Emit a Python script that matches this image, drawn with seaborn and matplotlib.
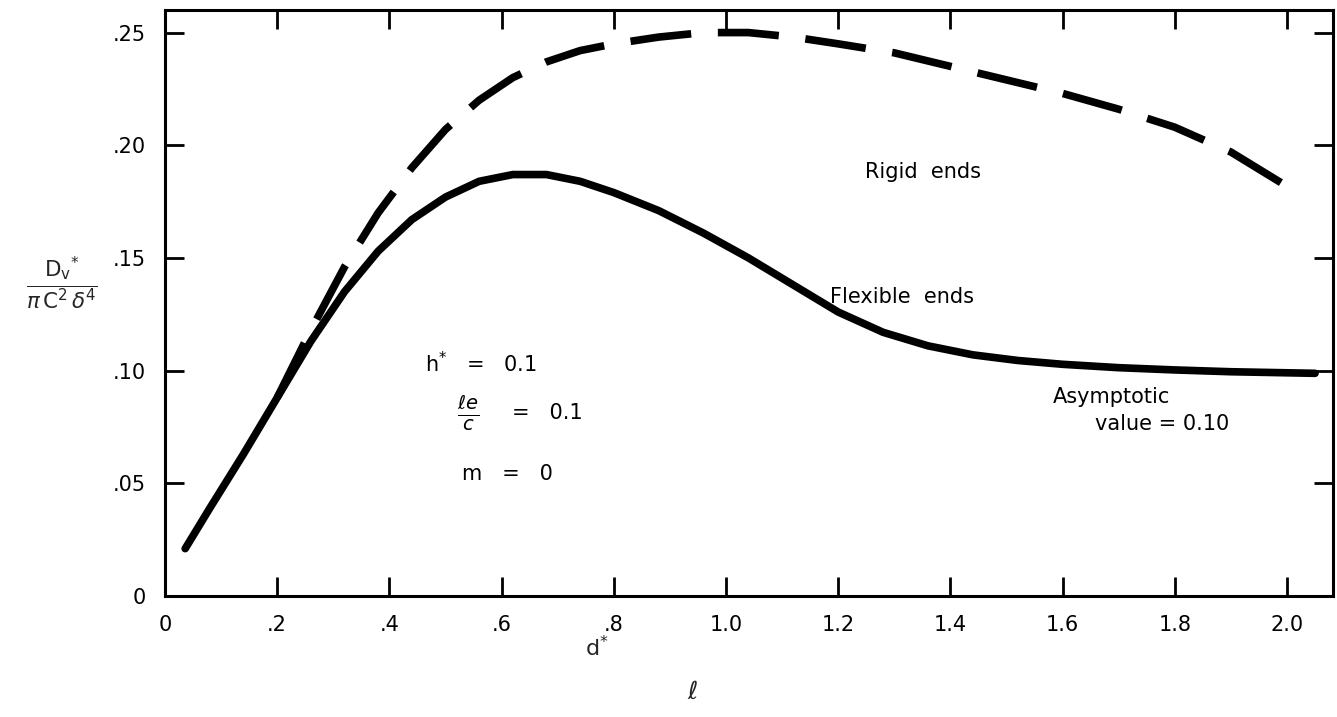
import matplotlib
matplotlib.use("Agg")
import matplotlib.pyplot as plt
import seaborn as sns

# flexible ends (solid)
flex_x = [0.036, 0.08, 0.14, 0.20, 0.26, 0.32, 0.38, 0.44, 0.50, 0.56, 0.62, 0.68,
          0.74, 0.80, 0.88, 0.96, 1.04, 1.12, 1.20, 1.28, 1.36, 1.44, 1.52, 1.60,
          1.70, 1.80, 1.90, 2.05]
flex_y = [0.021, 0.039, 0.063, 0.088, 0.113, 0.135, 0.153, 0.167, 0.177, 0.184,
          0.187, 0.187, 0.184, 0.179, 0.171, 0.161, 0.150, 0.138, 0.126, 0.117,
          0.111, 0.107, 0.1045, 0.1028, 0.1013, 0.1003, 0.0995, 0.0988]

# rigid ends (dashed)
rigid_x = [0.20, 0.26, 0.32, 0.38, 0.44, 0.50, 0.56, 0.62, 0.68, 0.74, 0.80, 0.88,
           0.96, 1.04, 1.12, 1.20, 1.30, 1.40, 1.50, 1.60, 1.70, 1.80, 1.90, 2.005]
rigid_y = [0.088, 0.118, 0.146, 0.170, 0.190, 0.207, 0.220, 0.230, 0.237, 0.242,
           0.245, 0.248, 0.250, 0.250, 0.248, 0.245, 0.241, 0.235, 0.229, 0.223,
           0.216, 0.208, 0.197, 0.181]

xticks = [0, 0.2, 0.4, 0.6, 0.8, 1.0, 1.2, 1.4, 1.6, 1.8, 2.0]
xtick_labels = ["0", ".2", ".4", ".6", ".8", "1.0", "1.2", "1.4", "1.6", "1.8", "2.0"]
yticks = [0, 0.05, 0.10, 0.15, 0.20, 0.25]
ytick_labels = ["0", ".05", ".10", ".15", ".20", ".25"]

sns.set_style("ticks")
plt.rcParams["font.family"] = ["DejaVu Sans"]

fig = plt.figure(figsize=(13.37, 7.17), dpi=100)
ax = fig.add_axes([0.1234, 0.1688, 0.8736, 0.8172])

sns.lineplot(x=flex_x, y=flex_y, ax=ax, color="black", lw=5.5, sort=False,
             solid_capstyle="round", solid_joinstyle="round")
line = sns.lineplot(x=rigid_x, y=rigid_y, ax=ax, color="black", lw=5.5,
                    sort=False).lines[-1]
line.set_dashes((8, 3.5))
line.set_dash_capstyle("butt")
line.set_dash_joinstyle("round")

ax.set_xlim(0, 2.082)
ax.set_ylim(0, 0.26)
ax.set_xticks(xticks)
ax.set_xticklabels(xtick_labels)
ax.set_yticks(yticks)
ax.set_yticklabels(ytick_labels)
ax.tick_params(direction="in", length=14, width=2, labelsize=15, pad=14,
               top=True, right=True, colors="black")
for s in ax.spines.values():
    s.set_linewidth(2.2)
    s.set_color("black")

kw = dict(fontsize=15, color="black", va="center")
ax.text(1.248, 0.188, "Rigid  ends", **kw)
ax.text(1.185, 0.1327, "Flexible  ends", **kw)
ax.text(1.583, 0.0885, "Asymptotic", **kw)
ax.text(1.658, 0.0765, "value = 0.10", **kw)
ax.text(0.463, 0.103, r"h$^{*}$   =   0.1", **kw)
ax.text(0.52, 0.081, r"$\frac{\ell e}{c}$", fontsize=20, color="black", va="center")
ax.text(0.619, 0.081, "=   0.1", **kw)
ax.text(0.529, 0.054, "m   =   0", **kw)

fig.text(62 / 1337, 1 - 283 / 717,
         r"$\frac{\mathrm{D_v}^{*}}{\pi\,\mathrm{C}^2\,\delta^4}$",
         fontsize=22, ha="center", va="center")
fig.text(597 / 1337, 1 - 648 / 717, r"d$^{*}$", fontsize=16, ha="center", va="center")
fig.text(693 / 1337, 1 - 692 / 717, r"$\ell$", fontsize=18, ha="center", va="center")

fig.savefig("out.png", dpi=100)
